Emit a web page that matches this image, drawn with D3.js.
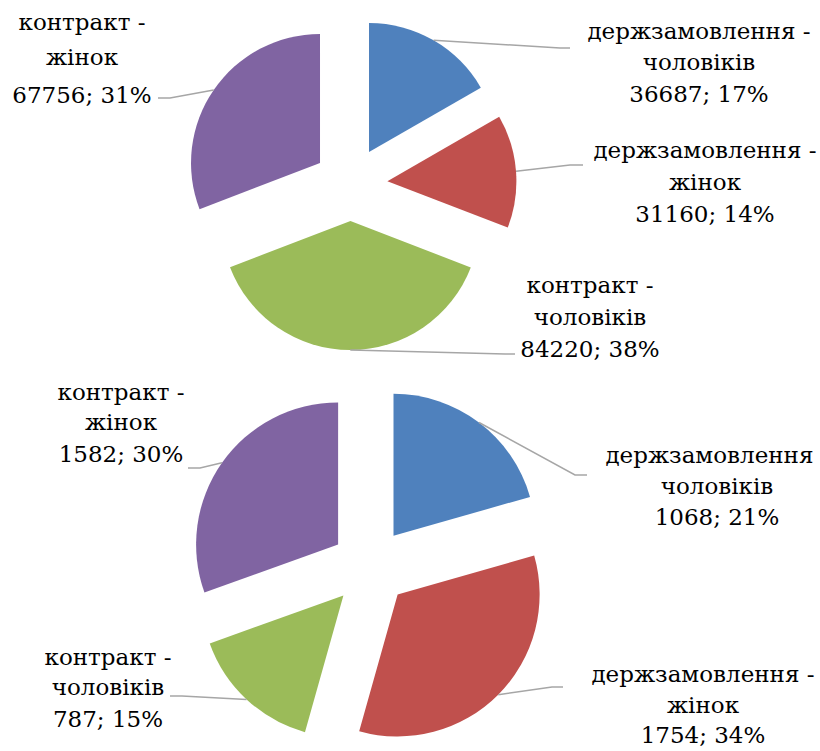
<!DOCTYPE html>
<html>
<head>
<meta charset="utf-8">
<script src="https://cdn.jsdelivr.net/npm/d3@7"></script>
<style>
  body { margin: 0; background: #fff; }
  svg text { font-family: "DejaVu Serif", serif; font-size: 23px; fill: #000; }
</style>
</head>
<body>
<svg id="graph" width="820" height="751"></svg>
<script>
// назви категорій (рядки підпису)
var categories = [
    ["держзамовлення -", "чоловіків"],
    ["держзамовлення -", "жінок"],
    ["контракт -", "чоловіків"],
    ["контракт -", "жінок"]
];
var colors = ["#4F81BD", "#C0504D", "#9BBB59", "#8064A2"];

// верхня діаграма
var topValues = [36687, 31160, 84220, 67756];
// нижня діаграма
var bottomValues = [1068, 1754, 787, 1582];

// розміщення підписів: x центру, базові лінії рядків, злам лінії-виноски, кінець виноски
var topLayout = {
    cx: 350.5, cy: 184, r: 129, explode: 37,
    labels: [
        { x: 699, ys: [39, 70, 102], elbow: [560, 48], end: [570, 48] },
        { x: 705, ys: [158, 190, 222], elbow: [570, 165], end: [583, 165] },
        { x: 590, ys: [293, 325, 357], elbow: [505, 354], end: [515, 354] },
        { x: 82, ys: [30, 65, 103], elbow: [170, 98], end: [158, 98] }
    ]
};
var bottomLayout = {
    cx: 370, cy: 567, r: 142, explode: 39,
    labels: [
        { x: 717, ys: [463, 494, 525], elbow: [575, 475], end: [587, 475] },
        { x: 703, ys: [682, 713, 743], elbow: [552, 687], end: [563, 687] },
        { x: 108, ys: [665, 695, 727], elbow: [182, 696], end: [170, 696] },
        { x: 121, ys: [400, 430, 462], elbow: [200, 468], end: [188, 468] }
    ]
};

var svg = d3.select("#graph");

function creaPastel(values, layout) {
    var total = d3.sum(values);
    var pie = d3.pie().sort(null).value(d => d);
    var arcs = pie(values);
    var arc = d3.arc().innerRadius(0).outerRadius(layout.r);

    var g = svg.append("g")
        .attr("transform", "translate(" + layout.cx + "," + layout.cy + ")");

    // зсув кожного сектора вздовж його середнього кута
    function offset(d) {
        var a = (d.startAngle + d.endAngle) / 2;
        return [layout.explode * Math.sin(a), -layout.explode * Math.cos(a)];
    }

    g.selectAll(".slice")
        .data(arcs)
        .enter()
        .append("path")
        .attr("class", "slice")
        .attr("d", arc)
        .attr("fill", (d, i) => colors[i])
        .attr("transform", d => {
            var o = offset(d);
            return "translate(" + o[0] + "," + o[1] + ")";
        });

    // виноски
    arcs.forEach((d, i) => {
        var lab = layout.labels[i];
        var o = offset(d);
        var a = (d.startAngle + d.endAngle) / 2;
        var sx = layout.cx + o[0] + layout.r * Math.sin(a);
        var sy = layout.cy + o[1] - layout.r * Math.cos(a);

        svg.append("polyline")
            .attr("points", [[sx, sy], lab.elbow, lab.end].map(p => p.join(",")).join(" "))
            .attr("fill", "none")
            .attr("stroke", "#A6A6A6")
            .attr("stroke-width", 1.5);

        var pct = Math.round(values[i] / total * 100);
        var lines = categories[i].concat([values[i] + "; " + pct + "%"]);
        var t = svg.append("text").attr("text-anchor", "middle");
        lines.forEach((s, j) => {
            t.append("tspan")
                .attr("x", lab.x)
                .attr("y", lab.ys[j])
                .text(s);
        });
    });
}

creaPastel(topValues, topLayout);
creaPastel(bottomValues, bottomLayout);
</script>
</body>
</html>
